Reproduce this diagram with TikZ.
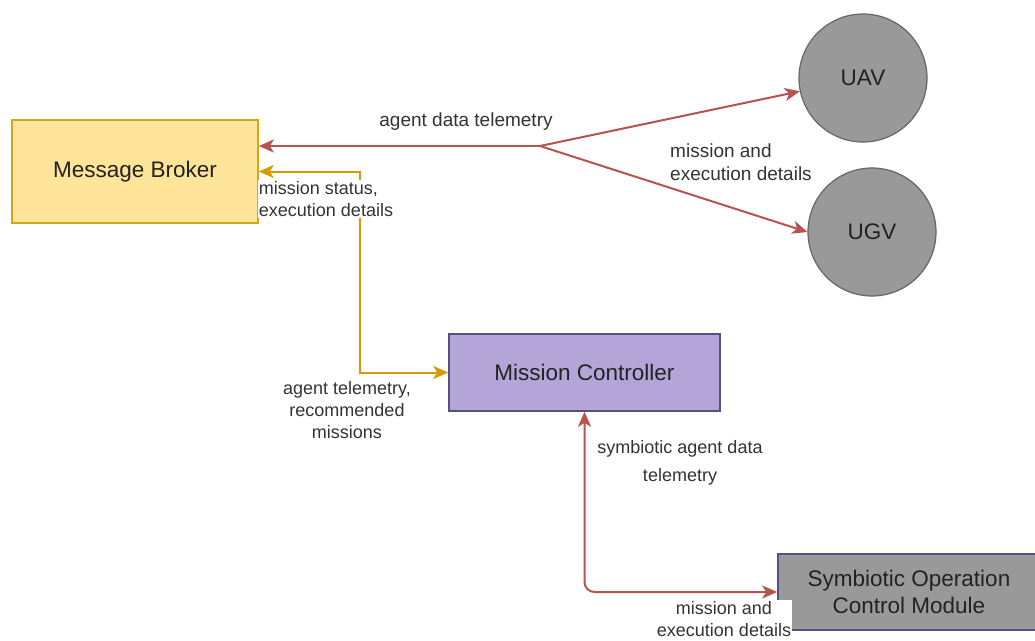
\documentclass[tikz,border=0pt]{standalone}
\usepackage{fontspec}
\setmainfont{Liberation Sans}
\usetikzlibrary{arrows.meta,calc}
\definecolor{brokerfill}{HTML}{FFE599}
\definecolor{brokerline}{HTML}{D6A520}
\definecolor{ctrlfill}{HTML}{B3A5D7}
\definecolor{ctrlline}{HTML}{56517E}
\definecolor{grayfill}{HTML}{999999}
\definecolor{grayline}{HTML}{666666}
\definecolor{redline}{HTML}{B85450}
\definecolor{yelline}{HTML}{D79B00}
\definecolor{nodetext}{HTML}{222222}
\definecolor{lbltext}{HTML}{333333}
\tikzset{
  tipshape/.style={},
  boxbase/.style={rectangle, line width=1.6pt, inner sep=0pt, text=nodetext, font=\fontsize{22.5}{27}\selectfont, align=center},
  broker/.style={boxbase, fill=brokerfill, draw=brokerline, minimum width=246pt, minimum height=103pt},
  ctrl/.style={boxbase, fill=ctrlfill, draw=ctrlline, minimum width=271pt, minimum height=77pt},
  module/.style={boxbase, fill=grayfill, draw=ctrlline, minimum width=262pt, minimum height=76pt},
  agent/.style={circle, fill=grayfill, draw=grayline, line width=1.2pt, minimum size=128pt, inner sep=0pt, text=nodetext, font=\fontsize{22.5}{27}\selectfont},
  lbl/.style={text=lbltext, font=\fontsize{18}{22}\selectfont, align=center, inner sep=1pt},
  lblbig/.style={lbl, font=\fontsize{19}{22.5}\selectfont},
  redarrow/.style={draw=redline, line width=2pt, -{Stealth[length=15pt,width=13pt,inset=4pt]}},
  yelarrow/.style={draw=yelline, line width=2pt, {Stealth[length=15pt,width=13pt,inset=4pt]}-{Stealth[length=15pt,width=13pt,inset=4pt]}},
  redboth/.style={draw=redline, line width=2pt, {Stealth[length=15pt,width=13pt,inset=4pt]}-{Stealth[length=15pt,width=13pt,inset=4pt]}, rounded corners=10pt},
}
\begin{document}
\begin{tikzpicture}[x=1pt,y=-1pt]
\useasboundingbox (0,0) rectangle (1035,640);
\fill[white] (0,0) rectangle (1035,640);

% nodes
\node[broker] (mb) at (135,171.5) {Message Broker};
\node[agent] (uav) at (863,78) {UAV};
\node[agent] (ugv) at (872,232) {UGV};
\node[ctrl] (mc) at (584.5,372.5) {Mission Controller};
\node[module] (som) at (909,592) {Symbiotic Operation\\Control Module};

% junction
\coordinate (j) at (540,146);
\coordinate (ybend) at (360,171.5);

% red connectors at top
\draw[redarrow] (j) -- (mb.east |- j);
\draw[redarrow] (j) -- (uav);
\draw[redarrow] (j) -- (ugv.west);

% yellow connector
\draw[yelarrow] (mb.east) -- (ybend) |- (mc.west);

% red connector bottom
\draw[redboth] (mc.south) |- (som.west);

% labels
\node[lblbig] (l1) at (466,122) {agent data telemetry};
\node[lblbig, align=left] (l2) at (741,162) {mission and\\execution details};
\node[lbl, align=left, fill=white] (l3) at (326,199) {mission status,\\execution details};
\node[lbl] (l4) at (347,410) {agent telemetry,\\recommended\\missions};
\node[lbl, font=\fontsize{18}{28}\selectfont] (l5) at (680,463) {symbiotic agent data\\telemetry};
\node[lbl, fill=white] (l6) at (724,619) {mission and\\execution details};
\end{tikzpicture}
\end{document}
